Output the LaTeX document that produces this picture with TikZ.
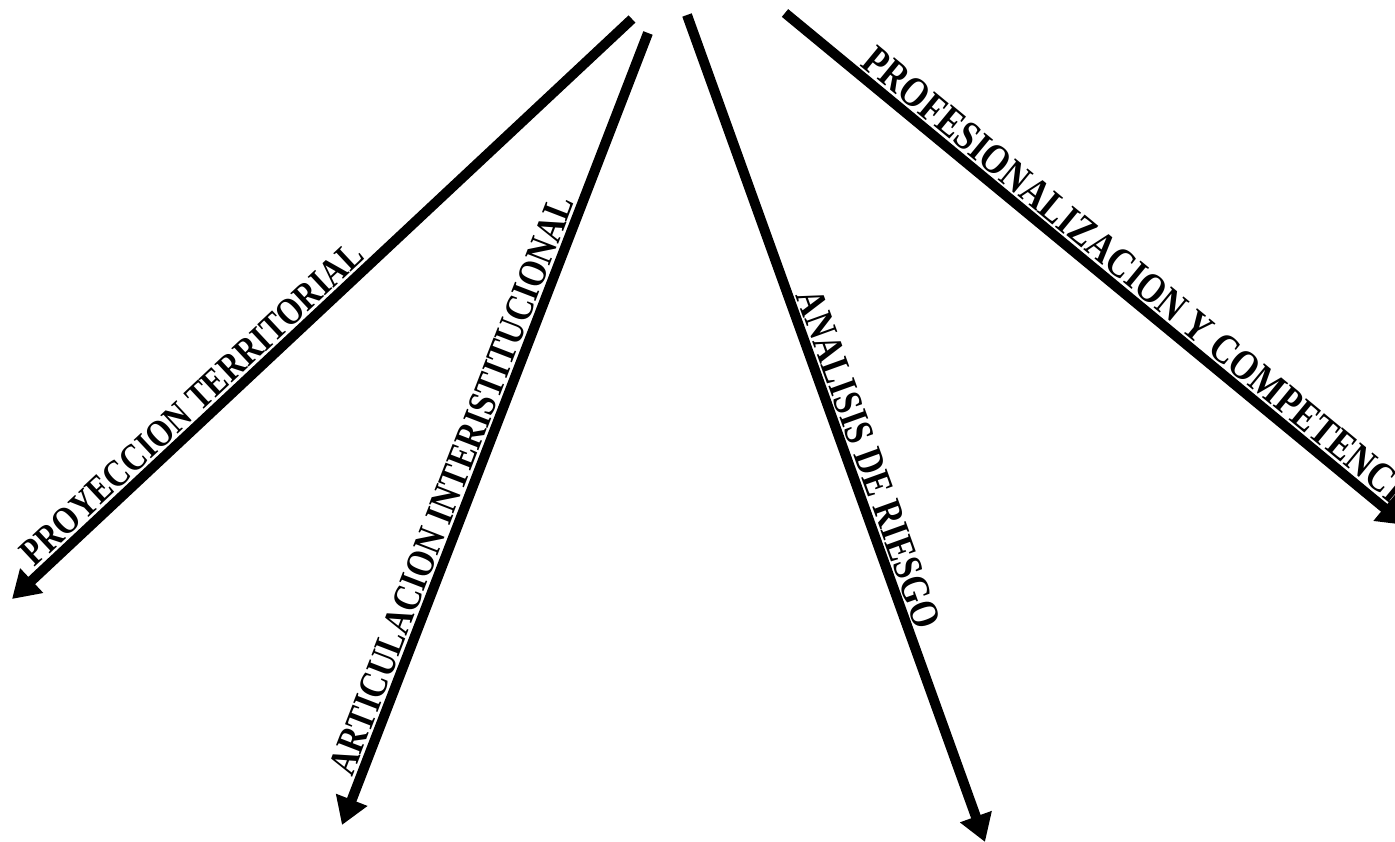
\documentclass[tikz,border=0pt]{standalone}
\usepackage{fontspec}
\usepackage{graphicx}
\setmainfont{Liberation Serif}
\usetikzlibrary{arrows.meta}
\newcommand{\tall}[1]{\scalebox{1}[1.2]{#1}}
\begin{document}
\begin{tikzpicture}[x=1pt,y=-1pt,
  arr/.style={line width=10pt, -{Triangle[length=27pt,width=32pt]}},
  lbl/.style={sloped, anchor=south, inner xsep=0pt, inner ysep=2pt}]
\useasboundingbox (0,0) rectangle (1395,842);
\coordinate (s1) at (632,19);  \coordinate (t1) at (12,599);
\coordinate (s2) at (648,33);  \coordinate (t2) at (342,825);
\coordinate (s3) at (687,15);  \coordinate (t3) at (985,842);
\coordinate (s4) at (785,13);  \coordinate (t4) at (1405,525);
\draw[arr] (s1) -- node[lbl, pos=0.688, font=\fontsize{32}{38}\selectfont\bfseries] (l1) {\tall{PROYECCION TERRITORIAL}} (t1);
\draw[arr] (s2) -- node[lbl, pos=0.58, font=\fontsize{33}{40}\selectfont\bfseries] (l2) {\tall{ARTICULACION INTERISTITUCIONAL}} (t2);
\draw[arr] (s3) -- node[lbl, pos=0.545, font=\fontsize{34}{40}\selectfont\bfseries] (l3) {\tall{ANALISIS DE RIESGO}} (t3);
\draw[arr] (s4) -- node[lbl, pos=0.558, font=\fontsize{35}{42}\selectfont\bfseries] (l4) {\tall{PROFESIONALIZACION Y COMPETENCIA}} (t4);
\end{tikzpicture}
\end{document}
